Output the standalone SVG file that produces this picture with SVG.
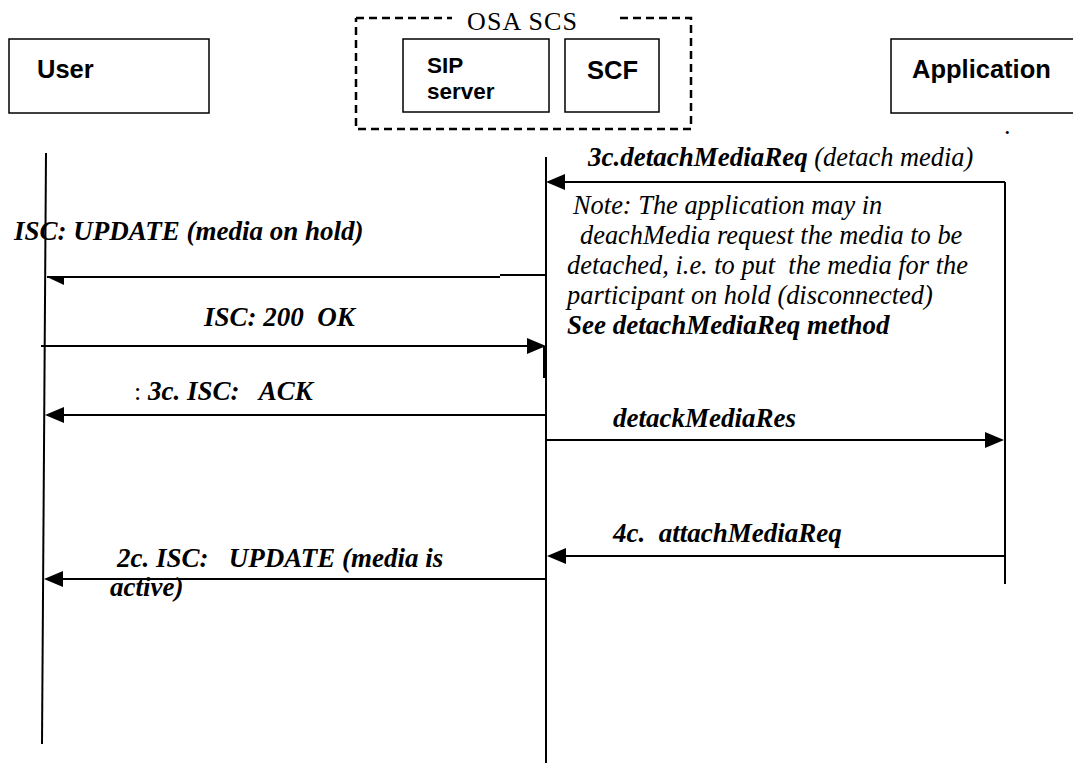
<svg xmlns="http://www.w3.org/2000/svg" width="1073" height="763" viewBox="0 0 1073 763">
<style>
text { white-space: pre; fill: #000; }
.box { fill: #fff; stroke: #000; stroke-width: 1.5; }
.hdr { font-family: "Liberation Sans", Arial, sans-serif; font-weight: bold; font-size: 25.5px; }
.hdr2 { font-family: "Liberation Sans", Arial, sans-serif; font-weight: bold; font-size: 22.5px; }
.lbl { font-family: "Liberation Serif", "Times New Roman", serif; font-weight: bold; font-style: italic; font-size: 27px; }
.it { font-family: "Liberation Serif", "Times New Roman", serif; font-style: italic; font-size: 26.4px; }
.rm { font-family: "Liberation Serif", "Times New Roman", serif; font-size: 26px; }
.life { stroke: #000; stroke-width: 2; fill: none; }
.msg { stroke: #000; stroke-width: 2; fill: none; }
.head { fill: #000; }
</style>

<g id="osa-scs">
  <path d="M356,18 H452 M620,18 H691 V129 H356 V18" fill="none" stroke="#000" stroke-width="2.5" stroke-dasharray="8,5"/>
  <text class="rm" x="467" y="30" textLength="110">OSA SCS</text>
</g>

<g id="user">
  <rect class="box" x="9" y="39" width="200" height="74"/>
  <text class="hdr" x="37" y="78">User</text>
</g>

<g id="sip-server">
  <rect class="box" x="403" y="39" width="146" height="73"/>
  <text class="hdr2" x="427" y="73">SIP</text>
  <text class="hdr2" x="427" y="99">server</text>
</g>

<g id="scf">
  <rect class="box" x="565" y="39" width="94" height="73"/>
  <text class="hdr" x="587" y="79">SCF</text>
</g>

<g id="application">
  <rect class="box" x="891" y="39" width="200" height="74"/>
  <text class="hdr" x="912" y="78">Application</text>
  <text class="rm" x="1004" y="134" font-size="14">.</text>
</g>

<g id="lifelines">
  <line class="life" x1="46" y1="153" x2="42" y2="744"/>
  <line class="life" x1="546" y1="157" x2="546" y2="763"/>
  <line class="life" x1="544" y1="346" x2="544" y2="378"/>
  <line class="life" x1="1005" y1="182" x2="1005" y2="584"/>
</g>

<g id="connectors">
  <line class="msg" x1="1005" y1="182" x2="560" y2="182"/>
  <polygon class="head" points="546,182 565,174 565,190"/>
  <line class="msg" x1="500" y1="275" x2="546" y2="275"/>
  <line class="msg" x1="47" y1="277" x2="500" y2="277"/>
  <polygon class="head" points="47,277 64,277 64,285"/>
  <line class="msg" x1="41" y1="346" x2="530" y2="346"/>
  <polygon class="head" points="546,346 527,338 527,354"/>
  <line class="msg" x1="546" y1="415" x2="60" y2="415"/>
  <polygon class="head" points="45,415 64,407 64,423"/>
  <line class="msg" x1="546" y1="440" x2="990" y2="440"/>
  <polygon class="head" points="1004,440 985,432 985,448"/>
  <line class="msg" x1="1005" y1="556" x2="560" y2="556"/>
  <polygon class="head" points="547,556 566,548 566,564"/>
  <line class="msg" x1="546" y1="579" x2="60" y2="579"/>
  <polygon class="head" points="44,579 63,571 63,587"/>
</g>

<g id="labels">
  <text x="588" y="166"><tspan class="lbl">3c.detachMediaReq</tspan><tspan class="it"> (detach media)</tspan></text>
  <text class="it" x="573" y="214">Note: The application may in</text>
  <text class="it" x="580" y="244">deachMedia request the media to be</text>
  <text class="it" x="567" y="274">detached, i.e. to put  the media for the</text>
  <text class="it" x="567" y="304">participant on hold (disconnected)</text>
  <text class="lbl" x="567" y="334">See detachMediaReq method</text>
  <text class="lbl" x="14" y="240">ISC: UPDATE (media on hold)</text>
  <text class="lbl" x="204" y="326">ISC: 200  OK</text>
  <text x="134" y="400"><tspan class="rm">:</tspan><tspan class="lbl"> 3c. ISC:   ACK</tspan></text>
  <text class="lbl" x="613" y="427">detackMediaRes</text>
  <text class="lbl" x="613" y="542">4c.  attachMediaReq</text>
  <text x="117" y="567"><tspan class="lbl" font-style="normal">2c.</tspan><tspan class="lbl"> ISC:   UPDATE (media is</tspan></text>
  <text class="lbl" x="110" y="596">active)</text>
</g>
</svg>
